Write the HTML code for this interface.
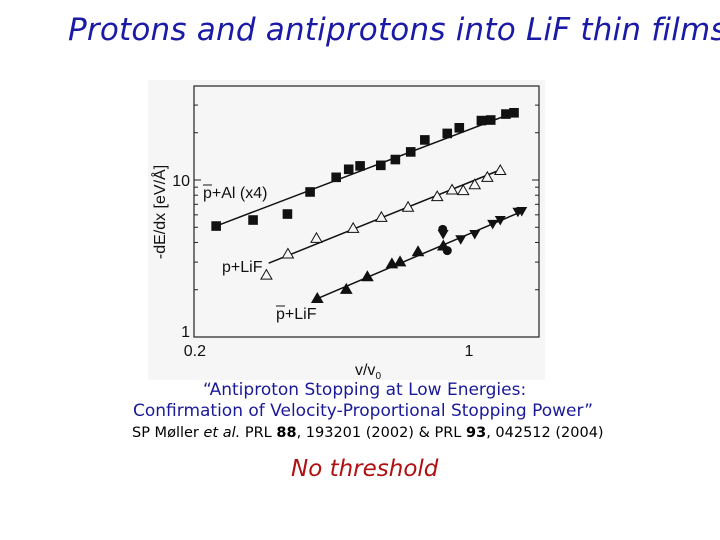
<!DOCTYPE html>
<html><head><meta charset="utf-8"><style>
body{margin:0;background:#fff;width:720px;height:540px;overflow:hidden;position:relative;font-family:"Liberation Sans",sans-serif}
.t{position:absolute;white-space:nowrap}
</style></head><body>
<div class="t" style="left:68px;top:12px;font-size:31px;font-style:italic;color:#1a1aa6;font-family:'DejaVu Sans',sans-serif;letter-spacing:0.2px">Protons and antiprotons into LiF thin films</div>
<svg id="chart" width="720" height="540" style="position:absolute;left:0;top:0" xmlns="http://www.w3.org/2000/svg"></svg>
<div class="t" style="left:203px;top:380px;font-size:17px;color:#1a1a99;font-family:'DejaVu Sans',sans-serif">“Antiproton Stopping at Low Energies:</div>
<div class="t" style="left:133px;top:401px;font-size:17px;color:#1a1a99;font-family:'DejaVu Sans',sans-serif">Confirmation of Velocity-Proportional Stopping Power”</div>
<div class="t" style="left:132px;top:425px;font-size:14.5px;color:#000;font-family:'DejaVu Sans',sans-serif">SP Møller <i>et al.</i> PRL <b>88</b>, 193201 (2002) &amp; PRL <b>93</b>, 042512 (2004)</div>
<div class="t" style="left:291px;top:456px;font-size:23px;font-style:italic;color:#b01010;font-family:'DejaVu Sans',sans-serif">No threshold</div>
<script>
const pbarAlX=[0.229,0.284,0.347,0.396,0.461,0.496,0.530,0.598,0.651,0.712,0.773,0.881,0.945,1.075,1.135,1.24,1.30];
const pbarAlY=[5.09,5.56,6.07,8.39,10.4,11.7,12.3,12.4,13.5,15.1,18.0,19.8,21.5,23.9,24.1,26.3,26.8];
const pLiFX=[0.307,0.348,0.411,0.509,0.600,0.701,0.831,0.906,0.967,1.034,1.113,1.20];
const pLiFY=[2.48,3.38,4.25,4.92,5.78,6.70,7.83,8.64,8.55,9.33,10.4,11.5];
const pbarLiFUpX=[0.413,0.489,0.553,0.638,0.669,0.743,0.861];
const pbarLiFUpY=[1.76,2.01,2.42,2.92,3.01,3.49,3.80];
const pbarLiFDownX=[0.86,0.953,1.034,1.148,1.20,1.33,1.36];
const pbarLiFDownY=[4.53,4.19,4.53,5.25,5.56,6.28,6.35];
const pbarLiFCircX=[0.858,0.881];
const pbarLiFCircY=[4.85,3.55];
const fitAlX=[0.229,1.30], fitAlY=[5.09,26.9];
const fitPX=[0.311,1.20], fitPY=[2.95,11.6];
const fitPbarX=[0.405,1.36], fitPbarY=[1.72,6.3];
const yTicks=[1,10];
const xTicks=[0.2,1];

const NS="http://www.w3.org/2000/svg";
const svg=document.getElementById('chart');
const L=194,R=539,T=86,B=337;
const X=v=>469+395*Math.log10(v);
const Y=v=>180-157*Math.log10(v/10);
function mk(tag,at,parent){const e=document.createElementNS(NS,tag);for(const k in at)e.setAttribute(k,at[k]);(parent||svg).appendChild(e);return e;}
const bg=mk('rect',{x:148,y:80,width:397,height:300,fill:'#f6f6f6'});


const fr=mk('rect',{x:L,y:T,width:R-L,height:B-T,fill:'none',stroke:'#222','stroke-width':1.2});


[2,3,4,5,6,7,8,9,20,30,40].forEach(v=>{const y=Y(v);if(y<T)return;
 const a=mk('line',{x1:L,x2:L+4,y1:y,y2:y,stroke:'#222'});
 const b=mk('line',{x1:R-4,x2:R,y1:y,y2:y,stroke:'#222'});});
yTicks.forEach(v=>{const y=Y(v);
 const a=mk('line',{x1:L,x2:L+7,y1:y,y2:y,stroke:'#222'});
 const b=mk('line',{x1:R-7,x2:R,y1:y,y2:y,stroke:'#222'});
 const t=mk('text',{x:L-4,y:y+(v===1?0:6),'text-anchor':'end','font-size':16,fill:'#111'});t.textContent=v;
 });
xTicks.forEach(v=>{const t=mk('text',{x:X(v)+(v===0.2?2:0),y:356,'text-anchor':'middle','font-size':16,fill:'#111'});t.textContent=v;
 });
const xt=mk('text',{x:368,y:375,'text-anchor':'middle','font-size':16,fill:'#111'});xt.innerHTML='v/v<tspan font-size="10" dy="4">0</tspan>';

const yt=mk('text',{x:0,y:0,'text-anchor':'middle','font-size':16,fill:'#111',transform:'translate(165,212) rotate(-90)'});yt.textContent='-dE/dx [eV/Å]';

function fit(xs,ys,name){const l=mk('line',{x1:X(xs[0]),y1:Y(ys[0]),x2:X(xs[1]),y2:Y(ys[1]),stroke:'#111','stroke-width':1.5});
 }
fit(fitAlX,fitAlY,'fit-line-pbar-al');fit(fitPX,fitPY,'fit-line-p-lif');fit(fitPbarX,fitPbarY,'fit-line-pbar-lif');
function marks(xs,ys,kind,name){xs.forEach((v,i)=>{const x=X(v),y=Y(ys[i]);let e;
 if(kind==='sq')e=mk('rect',{x:x-4.8,y:y-4.8,width:9.6,height:9.6,fill:'#111'});
 else if(kind==='up'||kind==='open')e=mk('polygon',{points:`${x},${y-5.5} ${x-5.5},${y+4} ${x+5.5},${y+4}`,fill:kind==='up'?'#111':'#f6f6f6',stroke:'#111','stroke-width':1});
 else if(kind==='down')e=mk('polygon',{points:`${x},${y+5.5} ${x-5.5},${y-4} ${x+5.5},${y-4}`,fill:'#111'});
 else e=mk('circle',{cx:x,cy:y,r:4.5,fill:'#111'});
 
 });}
marks(pbarAlX,pbarAlY,'sq','point-pbar-al');
marks(pLiFX,pLiFY,'open','point-p-lif');
marks(pbarLiFUpX,pbarLiFUpY,'up','point-pbar-lif');
marks(pbarLiFDownX,pbarLiFDownY,'down','point-pbar-lif-down');
marks(pbarLiFCircX,pbarLiFCircY,'circ','point-pbar-lif-circle');
function lab(x,y,txt,bar,name){const t=mk('text',{x:x,y:y,'font-size':16,fill:'#111'});t.textContent=txt;
 
 if(bar){const o=mk('line',{x1:x,x2:x+9,y1:y-13,y2:y-13,stroke:'#111','stroke-width':1});}}
lab(203,198,'p+Al (x4)',true,'label-pbar-al');
lab(222,272,'p+LiF',false,'label-p-lif');
lab(276,319,'p+LiF',true,'label-pbar-lif');
</script>
</body></html>
